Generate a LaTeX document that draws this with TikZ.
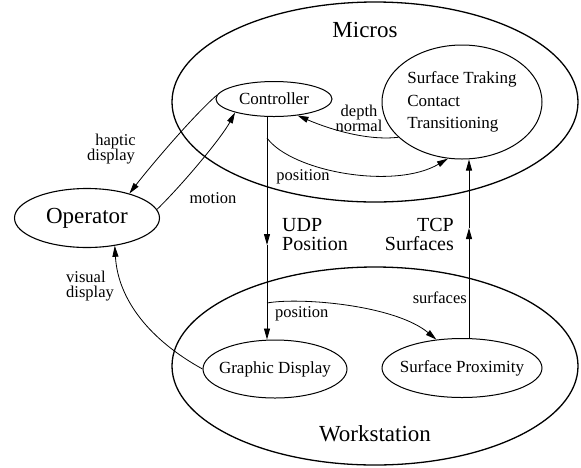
\documentclass[tikz,border=0pt]{standalone}
\usepackage{fontspec}
\setmainfont{Liberation Serif}
\usetikzlibrary{shapes.geometric,arrows.meta}

\begin{document}
\begin{tikzpicture}[x=1pt,y=-1pt,
  region/.style={draw,ellipse,inner sep=0pt,line width=1.3pt},
  oval/.style={draw,ellipse,inner sep=0pt,line width=1.0pt,
    font=\fontsize{17}{22.5}\selectfont},
  flow/.style={line width=0.8pt,-{Triangle[length=11pt,width=6pt]}},
  small/.style={inner sep=0pt,font=\fontsize{16.5}{14.5}\selectfont},
  medium/.style={inner sep=0pt,font=\fontsize{20}{17}\selectfont},
  large/.style={inner sep=0pt,font=\fontsize{23}{27}\selectfont}]
\useasboundingbox (0,0) rectangle (581,467);

% the two machines
\node[region,minimum width=406pt,minimum height=200pt] (micros) at (375,102) {};
\node[region,minimum width=406pt,minimum height=198pt] (ws) at (375,366) {};
\node[large,anchor=base] (microstitle) at (365,37) {Micros};
\node[large,anchor=base] (wstitle) at (375,441) {Workstation};

% processes
\node[oval,minimum width=116pt,minimum height=35pt] (ctrl) at (274,99) {Controller};
\node[oval,minimum width=160pt,minimum height=114pt,align=left] (st) at (462,102)
  {Surface Traking\\Contact\\Transitioning};
\node[oval,minimum width=145pt,minimum height=59pt,line width=1.1pt,
  font=\fontsize{23}{27}\selectfont] (op) at (87,218) {Operator};
\node[oval,minimum width=144pt,minimum height=58pt] (gd) at (275,369)
  {\makebox[0pt]{Graphic Display}};
\node[oval,minimum width=160pt,minimum height=59pt] (sp) at (462,368)
  {\makebox[0pt]{Surface Proximity}};

% points on the network links
\coordinate (udppos) at (267,138);
\coordinate (udpmid) at (267,245);
\coordinate (udpws) at (267,303);
\coordinate (tcpmid) at (469,228);

% network links
\draw[flow] (ctrl.south -| udpmid) -- (udpmid);
\draw[flow] (udpmid) -- (udpmid |- gd.north);
\draw[flow] (tcpmid |- sp.north) -- (tcpmid);
\draw[flow] (tcpmid) -- (tcpmid |- st.south);
\node[medium,anchor=base west] (udp1) at (282,231) {UDP};
\node[medium,anchor=base west] (udp2) at (282,250) {Position};
\node[medium,anchor=base east] (tcp1) at (454,231) {TCP};
\node[medium,anchor=base east] (tcp2) at (454,250) {Surfaces};

% data flows
\draw[flow] (st.209) .. controls (367,141) and (329,129) .. (ctrl.-35);
\node[small,anchor=base] (dep1) at (359,116) {depth};
\node[small,anchor=base] (dep2) at (359,131) {normal};

\draw[flow] (udppos) .. controls (292,172) and (395,190) .. (st.-104);
\node[small,anchor=base] (pos1) at (303,180) {position};

\draw[flow] (ctrl.176) .. controls (192,117) and (149,168) .. (op.30);
\node[small,anchor=base] (hap1) at (115.5,145) {haptic};
\node[small,anchor=base] (hap2) at (111,160) {display};

\draw[flow] (op.7) .. controls (184,183) and (222,137) .. (ctrl.199);
\node[small,anchor=base] (mot) at (213,203) {motion};

\draw[flow] (gd.west) .. controls (150,340) and (118,300) .. (op.-45);
\node[small,anchor=base west] (vis1) at (66,282) {visual};
\node[small,anchor=base west] (vis2) at (66,297) {display};

\draw[flow] (udpws) .. controls (300,297) and (395,305) .. (sp.132);
\node[small,anchor=base west] (pos2) at (275,317) {position};
\node[small,anchor=base east] (surf) at (467,303) {surfaces};
\end{tikzpicture}
\end{document}
